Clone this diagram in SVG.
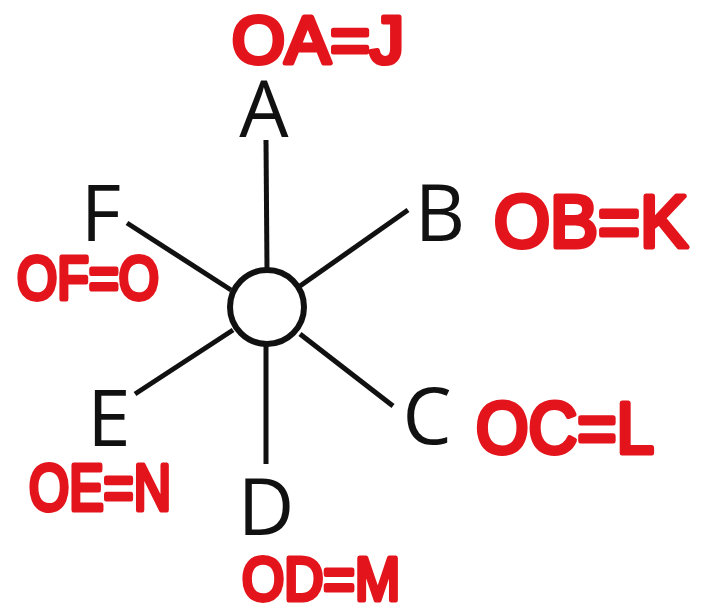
<svg xmlns="http://www.w3.org/2000/svg" width="702" height="612" viewBox="0 0 702 612">
<style>
.lbl{font-family:"Open Sans","DejaVu Sans",sans-serif;font-size:78px;fill:#111;text-anchor:middle}
.red{font-family:"Liberation Sans",Arial,sans-serif;fill:#e3141b;stroke:#e3141b;stroke-width:5;stroke-linejoin:round;stroke-linecap:round}
.ln{stroke:#111;stroke-width:5;stroke-linecap:butt;fill:none}
</style>
<rect width="702" height="612" fill="#fff"/>
<g id="connectors">
<line class="ln" x1="266" y1="140" x2="267" y2="270"/>
<line class="ln" x1="408" y1="210" x2="300" y2="286"/>
<line class="ln" x1="393" y1="406" x2="300" y2="334"/>
<line class="ln" x1="266" y1="464" x2="266" y2="345"/>
<line class="ln" x1="135" y1="394" x2="233" y2="330"/>
<line class="ln" x1="127" y1="223" x2="231" y2="290"/>
</g>
<g id="O"><circle cx="267" cy="307" r="37" fill="#fff" stroke="#111" stroke-width="6"/></g>
<g id="A"><text class="lbl" x="264" y="137">A</text><text class="red" x="232" y="63" font-size="66" textLength="172" lengthAdjust="spacingAndGlyphs">OA=J</text></g>
<g id="B"><text class="lbl" x="440" y="241">B</text><text class="red" x="494" y="247" font-size="74" textLength="194" lengthAdjust="spacingAndGlyphs">OB=K</text></g>
<g id="C"><text class="lbl" x="427" y="444">C</text><text class="red" x="476" y="453" font-size="72" textLength="178" lengthAdjust="spacingAndGlyphs">OC=L</text></g>
<g id="D"><text class="lbl" x="266" y="535">D</text><text class="red" x="242" y="600" font-size="62" textLength="158" lengthAdjust="spacingAndGlyphs">OD=M</text></g>
<g id="E"><text class="lbl" x="109" y="446">E</text><text class="red" x="29" y="510" font-size="64" textLength="142" lengthAdjust="spacingAndGlyphs">OE=N</text></g>
<g id="F"><text class="lbl" x="101" y="241">F</text><text class="red" x="17" y="299" font-size="62" textLength="142" lengthAdjust="spacingAndGlyphs">OF=O</text></g>
</svg>
